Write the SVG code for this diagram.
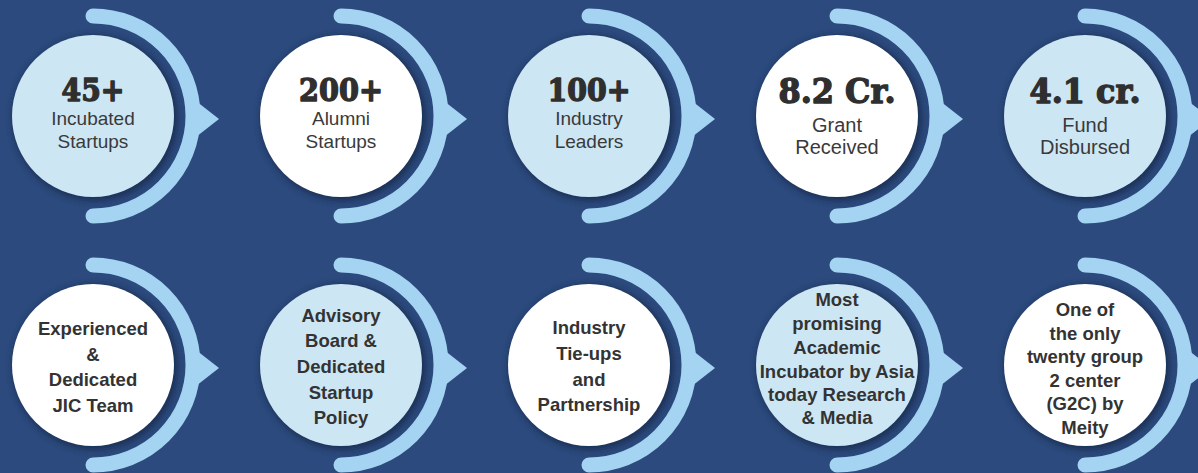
<svg xmlns="http://www.w3.org/2000/svg" xmlns:xlink="http://www.w3.org/1999/xlink" width="1198" height="473" viewBox="0 0 1198 473">
<style>
.bg{fill:#2C4A7D}
.band{fill:none;stroke:#A4D4F2;stroke-width:15;stroke-linecap:round}
.tip{fill:#A4D4F2}
.shadow{fill:#1A3158;filter:url(#blur)}
.light{fill:#CDE6F4}
.white{fill:#FFFFFF}
.num{font-family:"DejaVu Serif","Liberation Serif",serif;font-weight:bold;fill:#2F2F2F;stroke:#2F2F2F;stroke-width:1.4;stroke-linejoin:round;text-anchor:middle}
.sub{font-family:"Liberation Sans",Arial,sans-serif;fill:#3A3A3A;text-anchor:middle}
.bold{font-family:"Liberation Sans",Arial,sans-serif;font-weight:bold;font-size:18.5px;fill:#333333;text-anchor:middle}
</style>
<defs>
<filter id="blur" x="-20%" y="-20%" width="140%" height="140%"><feGaussianBlur stdDeviation="3"/></filter>
<g id="ring">
<path class="band" d="M 0 -100 A 100 100 0 0 1 0 100"/>
<polygon class="tip" points="103,-15 126,3 103,21"/>
</g>
<circle id="sh" class="shadow" cx="2" cy="2" r="83"/>
</defs>
<rect class="bg" x="0" y="0" width="1198" height="473"/>
<g id="connectors">
<use xlink:href="#ring" transform="translate(93,116)"/>
<use xlink:href="#ring" transform="translate(341,116)"/>
<use xlink:href="#ring" transform="translate(589,116)"/>
<use xlink:href="#ring" transform="translate(837,116)"/>
<use xlink:href="#ring" transform="translate(1085,116)"/>
<use xlink:href="#ring" transform="translate(93,365)"/>
<use xlink:href="#ring" transform="translate(341,365)"/>
<use xlink:href="#ring" transform="translate(589,365)"/>
<use xlink:href="#ring" transform="translate(837,365)"/>
<use xlink:href="#ring" transform="translate(1085,365)"/>
</g>
<g id="node-incubated">
<use xlink:href="#sh" transform="translate(93,116)"/>
<circle class="light" cx="93" cy="116" r="81"/>
<text class="num" x="93" y="101" font-size="31" textLength="63" lengthAdjust="spacingAndGlyphs">45+</text>
<text class="sub" x="93" y="125" font-size="19">Incubated</text>
<text class="sub" x="93" y="148" font-size="19">Startups</text>
</g>
<g id="node-alumni">
<use xlink:href="#sh" transform="translate(341,116)"/>
<circle class="white" cx="341" cy="116" r="81"/>
<text class="num" x="341" y="101" font-size="31" textLength="84" lengthAdjust="spacingAndGlyphs">200+</text>
<text class="sub" x="341" y="125" font-size="19">Alumni</text>
<text class="sub" x="341" y="148" font-size="19">Startups</text>
</g>
<g id="node-industry-leaders">
<use xlink:href="#sh" transform="translate(589,116)"/>
<circle class="light" cx="589" cy="116" r="81"/>
<text class="num" x="589" y="101" font-size="31" textLength="83" lengthAdjust="spacingAndGlyphs">100+</text>
<text class="sub" x="589" y="125" font-size="19">Industry</text>
<text class="sub" x="589" y="148" font-size="19">Leaders</text>
</g>
<g id="node-grant">
<use xlink:href="#sh" transform="translate(837,116)"/>
<circle class="white" cx="837" cy="116" r="81"/>
<text class="num" x="837" y="103" font-size="34" textLength="117" lengthAdjust="spacingAndGlyphs">8.2 Cr.</text>
<text class="sub" x="837" y="132" font-size="20">Grant</text>
<text class="sub" x="837" y="154" font-size="20">Received</text>
</g>
<g id="node-fund">
<use xlink:href="#sh" transform="translate(1085,116)"/>
<circle class="light" cx="1085" cy="116" r="81"/>
<text class="num" x="1085" y="103" font-size="34" textLength="111" lengthAdjust="spacingAndGlyphs">4.1 cr.</text>
<text class="sub" x="1085" y="132" font-size="20">Fund</text>
<text class="sub" x="1085" y="154" font-size="20">Disbursed</text>
</g>
<g id="node-team">
<use xlink:href="#sh" transform="translate(93,365)"/>
<circle class="white" cx="93" cy="365" r="81"/>
<text class="bold" x="93" y="335">Experienced</text>
<text class="bold" x="93" y="361">&amp;</text>
<text class="bold" x="93" y="386">Dedicated</text>
<text class="bold" x="93" y="412">JIC Team</text>
</g>
<g id="node-advisory">
<use xlink:href="#sh" transform="translate(341,365)"/>
<circle class="light" cx="341" cy="365" r="81"/>
<text class="bold" x="341" y="322">Advisory</text>
<text class="bold" x="341" y="347">Board &amp;</text>
<text class="bold" x="341" y="373">Dedicated</text>
<text class="bold" x="341" y="399">Startup</text>
<text class="bold" x="341" y="424">Policy</text>
</g>
<g id="node-tieups">
<use xlink:href="#sh" transform="translate(589,365)"/>
<circle class="white" cx="589" cy="365" r="81"/>
<text class="bold" x="589" y="334">Industry</text>
<text class="bold" x="589" y="360">Tie-ups</text>
<text class="bold" x="589" y="386">and</text>
<text class="bold" x="589" y="411">Partnership</text>
</g>
<g id="node-award">
<use xlink:href="#sh" transform="translate(837,365)"/>
<circle class="light" cx="837" cy="365" r="81"/>
<text class="bold" x="837" y="306">Most</text>
<text class="bold" x="837" y="330">promising</text>
<text class="bold" x="837" y="354">Academic</text>
<text class="bold" x="837" y="378">Incubator by Asia</text>
<text class="bold" x="837" y="401">today Research</text>
<text class="bold" x="837" y="424">&amp; Media</text>
</g>
<g id="node-g2c">
<use xlink:href="#sh" transform="translate(1085,365)"/>
<circle class="white" cx="1085" cy="365" r="81"/>
<text class="bold" x="1085" y="316">One of</text>
<text class="bold" x="1085" y="340">the only</text>
<text class="bold" x="1085" y="363">twenty group</text>
<text class="bold" x="1085" y="387">2 center</text>
<text class="bold" x="1085" y="410">(G2C) by</text>
<text class="bold" x="1085" y="434">Meity</text>
</g>
</svg>
